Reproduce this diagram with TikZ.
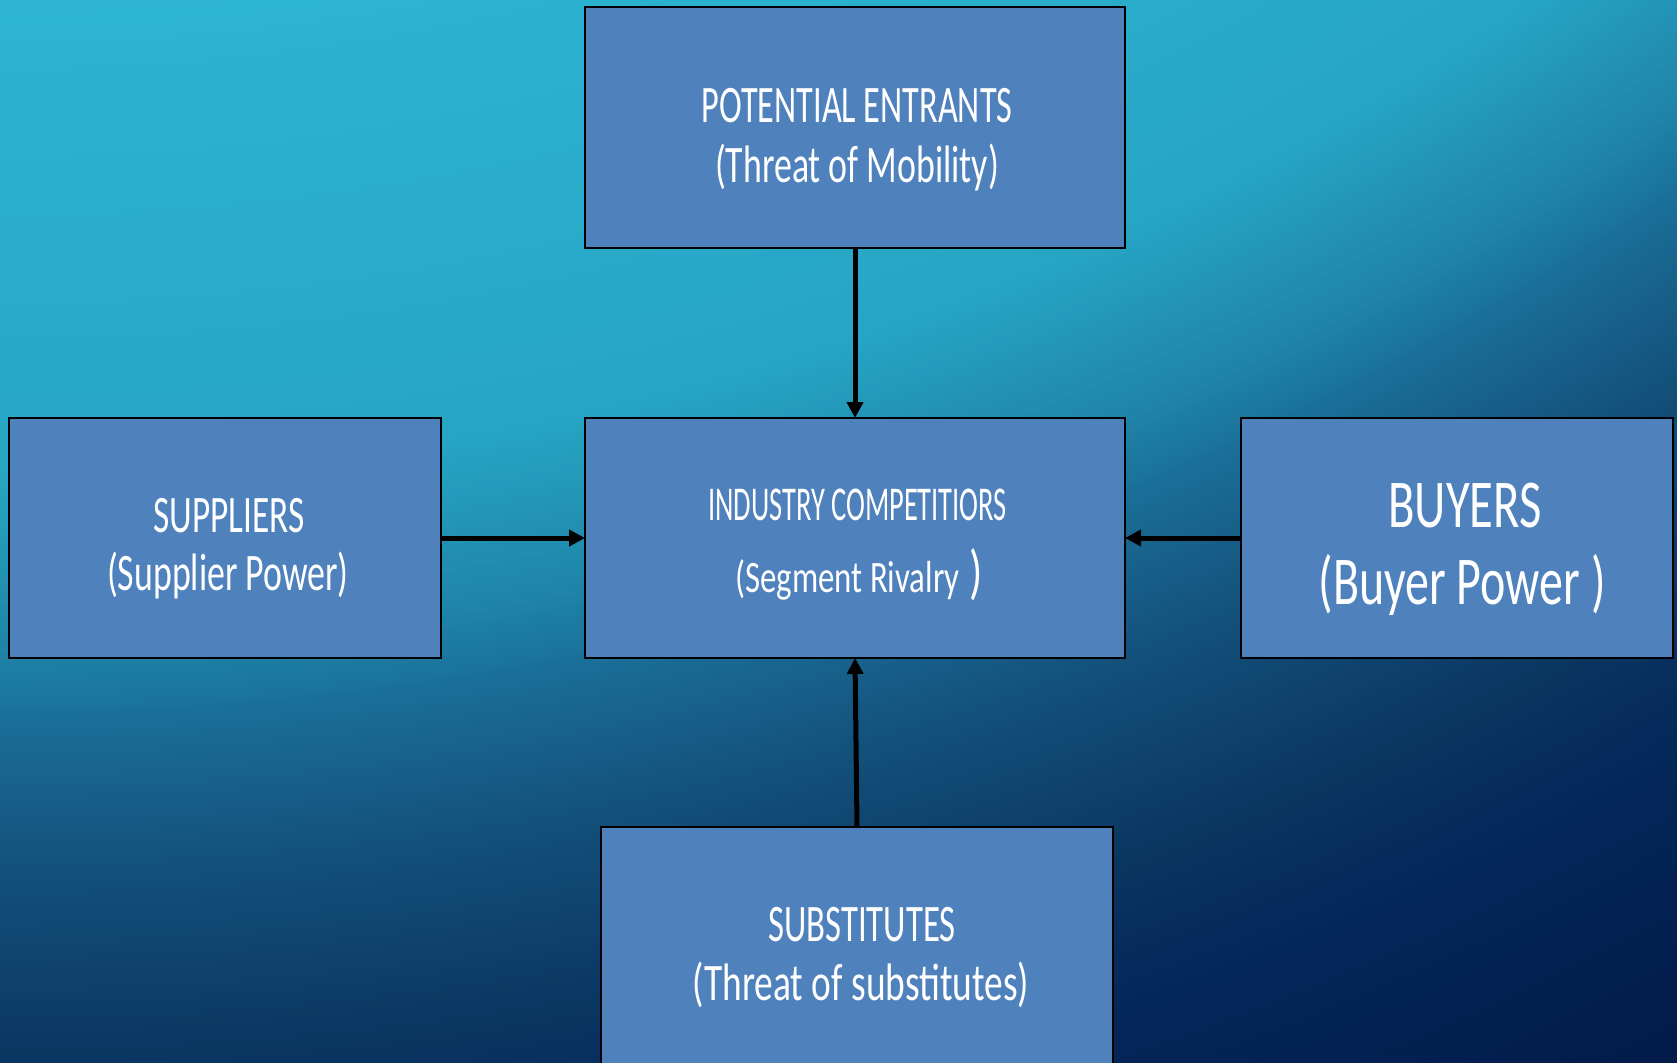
\documentclass[tikz,border=0pt]{standalone}
\usepackage{fontspec}
\setmainfont{Carlito}
\usetikzlibrary{arrows.meta}

\definecolor{boxfill}{HTML}{4F81BD}
\definecolor{g0}{HTML}{2DB6D4}
\definecolor{g1}{HTML}{27A5C5}
\definecolor{g2}{HTML}{1F85A8}
\definecolor{g3}{HTML}{1A6F98}
\definecolor{g4}{HTML}{13507A}
\definecolor{g5}{HTML}{0A3561}
\definecolor{g6}{HTML}{04275A}
\definecolor{g7}{HTML}{021A48}

% one ring band of the background: radius #1 down to #2, colour #3 to #4, in #5 steps
\newcommand\ringband[5]{%
  \pgfmathsetmacro\bgd{(#1-#2)/#5}%
  \foreach \k in {0,...,#5}{%
    \pgfmathsetmacro\bgr{#1-\bgd*\k}%
    \pgfmathsetmacro\bgp{100-100/#5*\k}%
    \fill[#3!\bgp!#4] (glow) circle[radius=\bgr pt];%
  }}

% a line of condensed text: size, horizontal scale, text
\newcommand\sline[3]{\fontsize{#1}{#1}\selectfont\scalebox{#2}[1]{#3}}

\tikzset{
  force/.style={draw=black, line width=2pt, fill=boxfill, inner sep=0pt, outer sep=0pt},
  label/.style={text=white, inner sep=0pt, anchor=base},
  conn/.style={draw=black, line width=5pt, -{Triangle[length=16pt,width=16pt]}},
}

\begin{document}
\begin{tikzpicture}[x=1pt,y=-1pt]
\useasboundingbox (0,0) rectangle (1677,1062);
\begin{scope}
\clip (0,0) rectangle (1677,1062);

% background: wide radial glow from far above the upper left corner
\coordinate (glow) at (0,-2224);
\fill[g7] (0,0) rectangle (1677,1062);
\ringband{3800}{3700}{g7}{g7}{4}
\ringband{3700}{3420}{g7}{g6}{56}
\ringband{3420}{3290}{g6}{g5}{26}
\ringband{3290}{3100}{g5}{g4}{38}
\ringband{3100}{2945}{g4}{g3}{31}
\ringband{2945}{2870}{g3}{g2}{15}
\ringband{2870}{2700}{g2}{g1}{34}
\ringband{2700}{2200}{g1}{g0}{50}

% the five forces
\node[force, minimum width=540pt, minimum height=240.5pt] (entrants) at (855,127.75) {};
\node[force, minimum width=540pt, minimum height=240pt] (rivalry) at (855,538) {};
\node[force, minimum width=432.5pt, minimum height=240pt] (suppliers) at (224.75,538) {};
\node[force, minimum width=432pt, minimum height=240pt] (buyers) at (1457,538) {};
\node[force, minimum width=512pt, minimum height=290pt] (substitutes) at (857,972) {};

% texts
\node[label] (entrantsA) at (857,123) {\sline{52.7}{0.65}{POTENTIAL ENTRANTS}};
\node[label] (entrantsB) at (857,182) {\sline{52.7}{0.68}{(Threat of Mobility)}};

\node[label] (rivalryA) at (857.5,520.7) {\sline{48.6}{0.585}{INDUSTRY COMPETITIORS}};
\node[label] (rivalryB) at (859,592.7) {\sline{45}{0.73}{(Segment Rivalry}\sline{60}{0.73}{ )}};

\node[label] (suppliersA) at (229,532.7) {\sline{52.7}{0.67}{SUPPLIERS}};
\node[label] (suppliersB) at (228,590) {\sline{52.7}{0.68}{(Supplier Power)}};

\node[label] (buyersA) at (1465,527.3) {\sline{68.5}{0.71}{BUYERS}};
\node[label] (buyersB) at (1462,604) {\sline{68.5}{0.70}{(Buyer Power )}};

\node[label] (substitutesA) at (862,941.7) {\sline{52.7}{0.66}{SUBSTITUTES}};
\node[label] (substitutesB) at (861,1000) {\sline{52.7}{0.71}{(Threat of substitutes)}};

% connectors into the centre
\draw[conn] (entrants.south) -- (rivalry.north);
\draw[conn] (suppliers.east) -- (rivalry.west);
\draw[conn] (buyers.west) -- (rivalry.east);
\draw[conn] (substitutes.north) -- (rivalry.south);
\end{scope}
\end{tikzpicture}
\end{document}
